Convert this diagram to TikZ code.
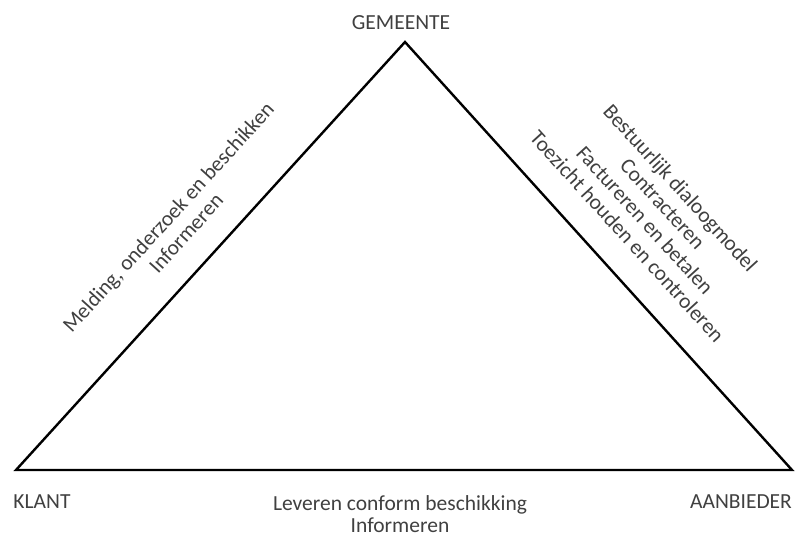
\documentclass[tikz,border=0pt]{standalone}
\usepackage{fontspec}
\setmainfont{Carlito}

\begin{document}
\begin{tikzpicture}[x=1pt,y=-1pt,
  lbl/.style={text=black!75,font=\fontsize{21.5}{24}\selectfont,align=center,inner sep=0pt}]
\useasboundingbox (0,0) rectangle (795,534);

% Triangle
\coordinate (klant-c) at (16,470);
\coordinate (gemeente-c) at (405,42);
\coordinate (aanbieder-c) at (792,470);
\draw[line width=2.4pt] (klant-c) -- (gemeente-c) -- (aanbieder-c) -- cycle;

% Corners
\node[lbl] (gemeente) at (401,23) {GEMEENTE};
\node[lbl] (klant) at (42,502) {KLANT};
\node[lbl] (aanbieder) at (741,502) {AANBIEDER};

% Sides
\node[lbl,rotate=47.7] (links) at (177,225) {Melding, onderzoek en beschikken\\Informeren};
\node[lbl,rotate=-47.7] (rechts) at (654,212) {Bestuurlijk dialoogmodel\\Contracteren\\Factureren en betalen\\Toezicht houden en controleren};
\node[lbl,font=\fontsize{21.5}{21.5}\selectfont] (onder) at (400,514) {Leveren conform beschikking\\Informeren};
\end{tikzpicture}
\end{document}
